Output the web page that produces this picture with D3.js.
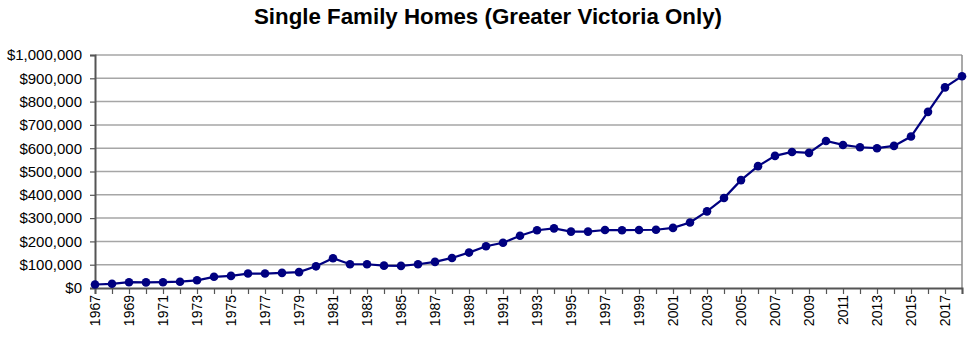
<!DOCTYPE html>
<html>
<head>
<meta charset="utf-8">
<script src="https://cdn.jsdelivr.net/npm/d3@7/dist/d3.min.js"></script>
<style>
  html, body { margin: 0; padding: 0; background: #fff; }
  svg { display: block; font-family: Arial, "Liberation Sans", sans-serif; }
</style>
</head>
<body>
<svg id="chart" width="980" height="347"></svg>
<script>
// Average single family home price, Greater Victoria, by year
const years = d3.range(1967, 2019);
const prices = [
  15000, 18000, 25000, 24000, 25000, 27000, 33000, 48000, 52000, 62000,
  62000, 65000, 68000, 93000, 128000, 102000, 102000, 96000, 95000, 102000,
  112000, 129000, 152000, 179000, 194000, 224000, 248000, 256000, 242000, 242000,
  249000, 248000, 249000, 250000, 258000, 281000, 329000, 386000, 463000, 523000,
  567000, 584000, 580000, 631000, 614000, 604000, 600000, 610000, 650000, 756000,
  861000, 909000
];
const yTicks = d3.range(0, 1000001, 100000);
const titleText = "Single Family Homes (Greater Victoria Only)";

const svg = d3.select("#chart");
const margin = { left: 95, right: 18, top: 55, bottom: 59 };
const W = 980, H = 347;

const x = d3.scalePoint().domain(years).range([margin.left, W - margin.right]);
const y = d3.scaleLinear().domain([0, 1000000]).range([H - margin.bottom, margin.top]);

// Title
svg.append("text")
  .attr("x", 488).attr("y", 24)
  .attr("text-anchor", "middle")
  .style("font-size", "22.3px").style("font-weight", "bold")
  .text(titleText);

// Horizontal gridlines
svg.append("g").selectAll("line").data(yTicks.filter(d => d > 0)).join("line")
  .attr("x1", margin.left).attr("x2", W - margin.right)
  .attr("y1", d => y(d)).attr("y2", d => y(d))
  .attr("stroke", "#a6a6a6").attr("stroke-width", 1.5);

// Plot frame (right side)
svg.append("line")
  .attr("x1", W - margin.right).attr("x2", W - margin.right)
  .attr("y1", y(1000000)).attr("y2", y(0))
  .attr("stroke", "#8c8c8c").attr("stroke-width", 1.5);

// Y axis
const fmt = d => "$" + d3.format(",")(d);
const yAxis = svg.append("g")
  .attr("transform", `translate(${margin.left},0)`)
  .call(d3.axisLeft(y).tickValues(yTicks).tickFormat(fmt).tickSize(5).tickPadding(8));
yAxis.select(".domain").attr("stroke", "#555").attr("stroke-width", 2);
yAxis.selectAll(".tick line").attr("stroke", "#555").attr("stroke-width", 1.2);
yAxis.selectAll("text").style("font-size", "15px").attr("fill", "#000");

// X axis: tick at every year, labels on odd years
const xAxis = svg.append("g")
  .attr("transform", `translate(0,${y(0)})`)
  .call(d3.axisBottom(x).tickSize(6).tickFormat(d => (d % 2 === 1 ? String(d) : "")));
xAxis.select(".domain").attr("stroke", "#555").attr("stroke-width", 2);
xAxis.selectAll(".tick line").attr("stroke", "#555").attr("stroke-width", 1.2);
xAxis.selectAll("text")
  .style("font-size", "14px").attr("fill", "#000")
  .attr("transform", "rotate(-90)")
  .attr("text-anchor", "end")
  .attr("x", -7).attr("y", 0).attr("dy", "0.35em");

// Price line
const line = d3.line().x((d, i) => x(years[i])).y(d => y(d));
svg.append("path").datum(prices)
  .attr("d", line)
  .attr("fill", "none").attr("stroke", "#000080").attr("stroke-width", 2.2);

svg.append("g").selectAll("circle").data(prices).join("circle")
  .attr("cx", (d, i) => x(years[i])).attr("cy", d => y(d))
  .attr("r", 4.3).attr("fill", "#000080");
</script>
</body>
</html>
